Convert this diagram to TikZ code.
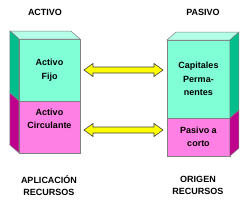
\documentclass[tikz,border=0pt]{standalone}
\usepackage{fontspec}
\setmainfont{Liberation Sans}
\usetikzlibrary{positioning,calc}

\definecolor{aquafront}{RGB}{128,255,215}
\definecolor{aquatop}{RGB}{180,255,232}
\definecolor{aquaside}{RGB}{0,190,140}
\definecolor{pinkfront}{RGB}{255,128,228}
\definecolor{pinkside}{RGB}{190,0,140}
\definecolor{arrowyellow}{RGB}{255,255,0}

\tikzset{
  face/.style={draw=gray, line width=0.5pt, inner sep=0pt, outer sep=0pt,
    align=center, font=\bfseries\fontsize{9}{13.5}\selectfont},
  title/.style={align=center, font=\bfseries\fontsize{9}{11.5}\selectfont},
  dblarrow/.style={draw=black!75, fill=arrowyellow, line width=0.6pt,
    to path={let \p1=(\tikztostart), \p2=(\tikztotarget) in
      (\x1+4pt,\y1) -- (\x1+13pt,\y1+6.5pt) -- (\x1+13pt,\y1+3pt)
      -- (\x2-13pt,\y2+3pt) -- (\x2-13pt,\y2+6.5pt) -- (\x2-4pt,\y2)
      -- (\x2-13pt,\y2-6.5pt) -- (\x2-13pt,\y2-3pt)
      -- (\x1+13pt,\y1-3pt) -- (\x1+13pt,\y1-6.5pt) -- cycle}}
}

\begin{document}
\begin{tikzpicture}[x=1pt,y=-1pt]
    \useasboundingbox (0,0) rectangle (250,202);

    % front faces
    \node[face, fill=aquafront, minimum width=61pt, minimum height=62pt] (fijo) at (49.5,70) {Activo\\Fijo};
    \node[face, fill=pinkfront, minimum width=61pt, minimum height=52pt, text depth=17pt, below=0pt of fijo] (circ) {Activo\\Circulante};
    \node[face, fill=aquafront, minimum width=63pt, minimum height=78pt] (perm) at (198.5,79) {Capitales\\Perma-\\nentes};
    \node[face, fill=pinkfront, minimum width=63pt, minimum height=38pt, below=0pt of perm] (corto) {Pasivo a\\corto};

    % left block, seen from the left
    \draw[gray, line width=0.5pt, fill=aquatop] (fijo.north west) -- ++(-9,-8) -- ($(fijo.north east)+(-9,-8)$) -- (fijo.north east) -- cycle;
    \draw[gray, line width=0.5pt, fill=aquaside] (fijo.north west) -- ++(-9,-8) -- ($(fijo.south west)+(-9,-8)$) -- (fijo.south west) -- cycle;
    \draw[gray, line width=0.5pt, fill=pinkside] (circ.north west) -- ++(-9,-8) -- ($(circ.south west)+(-9,-8)$) -- (circ.south west) -- cycle;

    % right block, seen from the right
    \draw[gray, line width=0.5pt, fill=aquatop] (perm.north west) -- ++(9,-8) -- ($(perm.north east)+(9,-8)$) -- (perm.north east) -- cycle;
    \draw[gray, line width=0.5pt, fill=aquaside] (perm.north east) -- ++(9,-8) -- ($(perm.south east)+(9,-8)$) -- (perm.south east) -- cycle;
    \draw[gray, line width=0.5pt, fill=pinkside] (corto.north east) -- ++(9,-8) -- ($(corto.south east)+(9,-8)$) -- (corto.south east) -- cycle;

    % titles
    \node[title] (activo) at (45,12) {ACTIVO};
    \node[title] (pasivo) at (203,12) {PASIVO};
    \node[title] (aplic) at (49,185.5) {APLICACIÓN\\RECURSOS};
    \node[title] (origen) at (198,185.5) {ORIGEN\\RECURSOS};

    % arrows
    \draw[dblarrow] (fijo.east) to (fijo.east -| perm.west);
    \coordinate (low) at ([yshift=-3pt]circ.east);
    \draw[dblarrow] (low) to (low -| corto.west);
\end{tikzpicture}
\end{document}
